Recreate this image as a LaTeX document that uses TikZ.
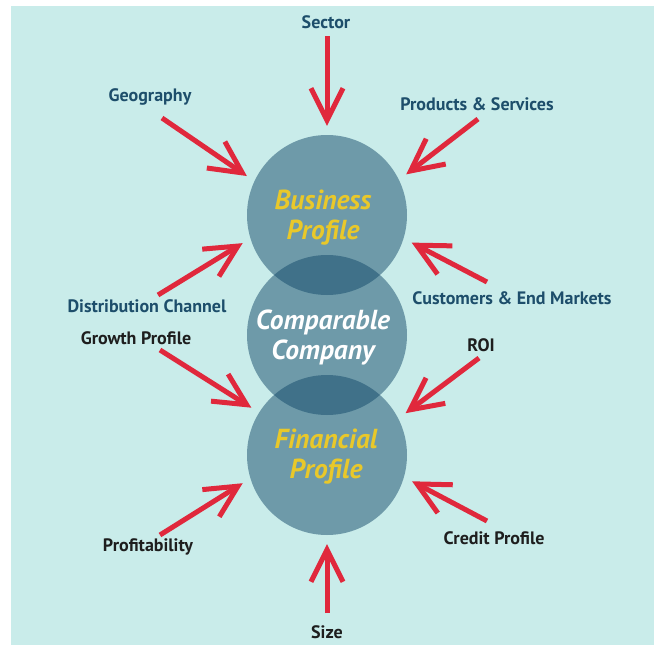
\documentclass[tikz,border=0pt]{standalone}
\usepackage{fontspec}
\setmainfont{PT Sans}
\usetikzlibrary{arrows.meta}
\definecolor{bgc}{HTML}{C9ECEA}
\definecolor{circ}{HTML}{144A6A}
\definecolor{lblue}{HTML}{1D4E6B}
\definecolor{lblack}{HTML}{1E1E1E}
\definecolor{arr}{HTML}{E0283C}
\definecolor{yel}{HTML}{E9C82A}
\tikzset{
  bub/.style={circle, minimum size=160pt, inner sep=0pt, fill=circ, fill opacity=0.5},
  ctext/.style={align=center, font=\fontsize{27.5}{30}\selectfont\bfseries\itshape, inner sep=0pt},
  lbl/.style={font=\fontsize{18}{20}\selectfont\bfseries, inner sep=0pt},
  blbl/.style={lbl, text=lblue},
  klbl/.style={lbl, text=lblack},
  redarrow/.style={draw=arr, line width=5pt, shorten >=9pt,
    -{Straight Barb[length=32pt, width=32pt, line width=5pt]}}
}
\begin{document}
\begin{tikzpicture}[x=1pt,y=-1pt]
\useasboundingbox (0,0) rectangle (654,645);
\fill[white] (0,0) rectangle (654,645);
\fill[bgc] (11,6) rectangle (654,645);
% circles
\node[bub] (bp) at (327,215) {};
\node[bub] (cc) at (327,335) {};
\node[bub] (fp) at (327,455) {};
% circle texts
\node[ctext, text=yel] (bpt) at (323,218) {Business\\Profile};
\node[ctext, text=white] (cct) at (323,337) {Comparable\\Company};
\node[ctext, text=yel] (fpt) at (326,457) {Financial\\Profile};
% labels
\node[blbl] (sec) at (326,22) {Sector};
\node[blbl] (geo) at (150,97) {Geography};
\node[blbl] (prod) at (477,104) {Products \& Services};
\node[blbl] (dist) at (147,306) {Distribution Channel};
\node[blbl] (cust) at (512,298) {Customers \& End Markets};
\node[klbl] (grow) at (136,338) {Growth Profile};
\node[klbl] (roi) at (481,345) {ROI};
\node[klbl] (prof) at (148,547) {Profitability};
\node[klbl] (cred) at (494,538) {Credit Profile};
\node[klbl] (size) at (327,632) {Size};
% arrow tails
\coordinate (secT) at (327,36);
\coordinate (geoT) at (162,118);
\coordinate (prodT) at (478,119);
\coordinate (distT) at (158,295);
\coordinate (custT) at (487,282);
\coordinate (growT) at (160,350);
\coordinate (roiT) at (479,358);
\coordinate (profT) at (160,535);
\coordinate (credT) at (487,521);
\coordinate (sizeT) at (327,613);
% arrows
\draw[redarrow] (secT) -- (bp.90);
\draw[redarrow] (geoT) -- (bp.155);
\draw[redarrow] (prodT) -- (bp.26);
\draw[redarrow] (distT) -- (bp.197);
\draw[redarrow] (custT) -- (bp.-17);
\draw[redarrow] (growT) -- (fp.148);
\draw[redarrow] (roiT) -- (fp.27);
\draw[redarrow] (profT) -- (fp.197);
\draw[redarrow] (credT) -- (fp.-16);
\draw[redarrow] (sizeT) -- (fp.-90);
\end{tikzpicture}
\end{document}
